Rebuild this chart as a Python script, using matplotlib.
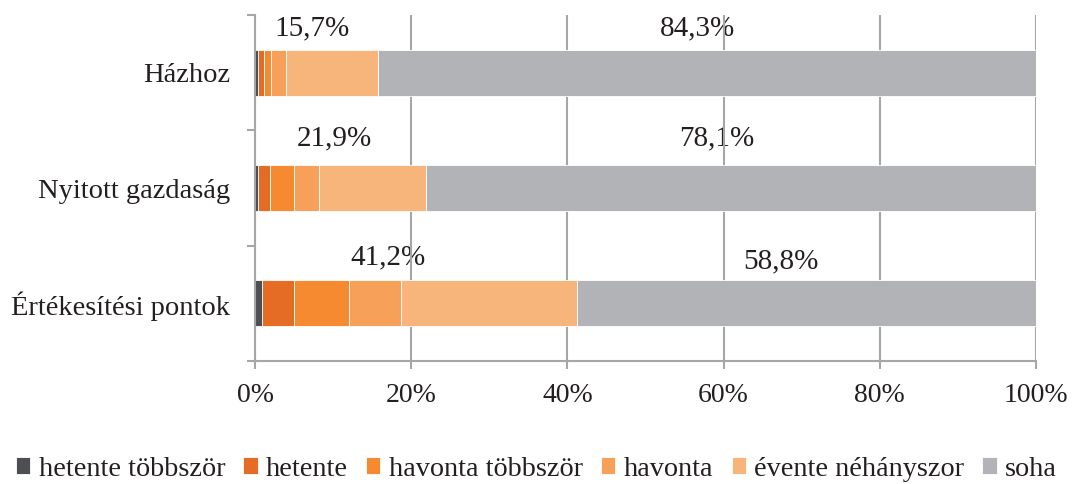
import matplotlib.pyplot as plt
import numpy as np

# data (percent of respondents)
categories = ['Házhoz', 'Nyitott gazdaság', 'Értékesítési pontok']
series_names = ['hetente többször', 'hetente', 'havonta többször',
                'havonta', 'évente néhányszor', 'soha']
hetente_tobbszor = [0.4, 0.4, 0.9]
hetente = [0.8, 1.5, 4.1]
havonta_tobbszor = [0.9, 3.1, 7.0]
havonta = [1.9, 3.2, 6.7]
evente = [11.7, 13.7, 22.5]
soha = [84.3, 78.1, 58.8]
label_texts_any = ['15,7%', '21,9%', '41,2%']
label_texts_soha = ['84,3%', '78,1%', '58,8%']

# styles / layout
colors = ['#4d4f53', '#e46c24', '#f58a30', '#f7a05a', '#f8b57b', '#b2b3b6']
label_x_any = [7.3, 10.2, 17.0]
label_x_soha = [56.7, 59.1, 67.3]
label_dy = [-0.38, -0.43, -0.40]
label_dy_soha = [-0.38, -0.43, -0.36]
grey = '#a6a6a6'
txt = '#231f20'

plt.rcParams['font.family'] = ['Liberation Serif', 'DejaVu Serif']

fig = plt.figure(figsize=(10.73, 4.84), dpi=100)
ax = fig.add_axes([255 / 1073, 1 - 361 / 484, (1036 - 255) / 1073, (361 - 15) / 484])

series = [hetente_tobbszor, hetente, havonta_tobbszor, havonta, evente, soha]
y = np.arange(len(categories))
left = np.zeros(len(categories))
for name, vals, c in zip(series_names, series, colors):
    ax.barh(y, vals, left=left, height=0.4, color=c, edgecolor='white',
            linewidth=0.6, label=name, zorder=2)
    left += np.array(vals)

for i in range(len(categories)):
    ax.text(label_x_any[i], y[i] + label_dy[i], label_texts_any[i],
            ha='center', va='center', fontsize=21, color=txt, zorder=0.2)
    ax.text(label_x_soha[i], y[i] + label_dy_soha[i], label_texts_soha[i],
            ha='center', va='center', fontsize=21, color=txt, zorder=0.2)

ax.set_xlim(0, 100)
ax.set_ylim(2.5, -0.5)
ax.set_xticks(np.arange(0, 101, 20))
ax.set_xticklabels([f'{v}%' for v in range(0, 101, 20)])
ax.set_yticks([-0.5, 0.5, 1.5, 2.5])
ax.set_yticklabels([])
ax.set_yticks(y, minor=True)
ax.set_yticklabels(categories, minor=True)
ax.tick_params(axis='y', which='major', length=8 * 0.72, width=1.5, color=grey, direction='out')
ax.tick_params(axis='y', which='minor', length=0, pad=18, labelsize=20.5, labelcolor=txt)
ax.tick_params(axis='x', length=8 * 0.72, width=1.5, color=grey, pad=10,
               labelsize=20, labelcolor=txt)

ax.grid(axis='x', color=grey, linewidth=1.5, zorder=0.5)
ax.set_axisbelow(True)
for s in ['top', 'right']:
    ax.spines[s].set_visible(False)
for s in ['left', 'bottom']:
    ax.spines[s].set_color(grey)
    ax.spines[s].set_linewidth(1.5)

fig.legend(loc='center', bbox_to_anchor=(0.5, 1 - 469 / 484), ncol=6, frameon=False,
           fontsize=20.3, handlelength=0.5, handleheight=0.5, handletextpad=0.3,
           columnspacing=0.65, borderaxespad=0, labelcolor=txt)

fig.savefig('out.png', dpi=100)
